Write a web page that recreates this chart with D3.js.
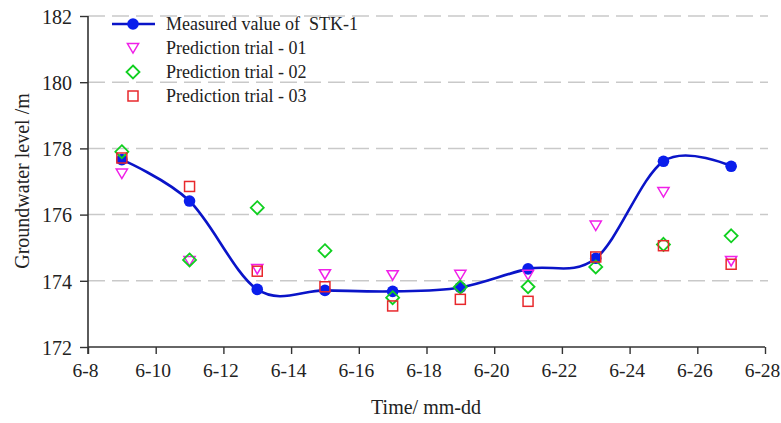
<!DOCTYPE html>
<html>
<head>
<meta charset="utf-8">
<script src="https://cdn.jsdelivr.net/npm/d3@7"></script>
<style>
  html, body { margin: 0; padding: 0; background: #fff; }
  #chart text { font-family: "Liberation Serif" !important; }
</style>
</head>
<body>
<svg id="chart" width="781" height="423"></svg>
<script>
// Observation days (June), measured groundwater level and three prediction trials
const days = [9, 11, 13, 15, 17, 19, 21, 23, 25, 27];
const measured = [177.66, 176.41, 173.74, 173.71, 173.68, 173.8, 174.36, 174.68, 177.61, 177.46];
const trial01 = [177.24, 174.6, 174.36, 174.2, 174.17, 174.18, 174.18, 175.67, 176.68, 174.6];
const trial02 = [177.9, 174.63, 176.21, 174.91, 173.49, 173.81, 173.82, 174.42, 175.1, 175.36];
const trial03 = [177.71, 176.85, 174.29, 173.82, 173.24, 173.44, 173.38, 174.72, 175.06, 174.5];
const xTicks = [8, 10, 12, 14, 16, 18, 20, 22, 24, 26, 28];
const yTicks = [172, 174, 176, 178, 180, 182];
const seriesNames = ["Measured value of  STK-1", "Prediction trial - 01", "Prediction trial - 02", "Prediction trial - 03"];

const fontName = "Liberation Serif";
const svg = d3.select("#chart");
const plotLeft = 88, plotRight = 765, plotTop = 16, plotBottom = 347;

const x = d3.scaleLinear().domain([8, 28]).range([plotLeft, plotRight]);
const y = d3.scaleLinear().domain([172, 182]).range([plotBottom, plotTop]);

const axisColor = "#333";
const textColor = "#222";

// Dashed horizontal gridlines
svg.append("g")
  .selectAll("line")
  .data(yTicks.filter(v => v > 172))
  .join("line")
  .attr("x1", plotLeft).attr("x2", 768)
  .attr("y1", d => y(d)).attr("y2", d => y(d))
  .attr("stroke", "#c9c9c9")
  .attr("stroke-width", 1.5)
  .attr("stroke-dasharray", "17,7");

// Y axis
const yAxis = svg.append("g")
  .attr("transform", `translate(${plotLeft},0)`)
  .call(d3.axisLeft(y).tickValues(yTicks).tickSize(8).tickPadding(8).tickFormat(d3.format("d")))
  .attr("font-family", fontName).attr("font-size", 20);
yAxis.select(".domain").attr("stroke", axisColor).attr("stroke-width", 1.6).attr("d", `M0,${plotTop}V${plotBottom + 7}`);
yAxis.selectAll(".tick line").attr("stroke", axisColor).attr("stroke-width", 1.4);
yAxis.selectAll(".tick text")
  .attr("font-family", fontName)
  .attr("font-size", 20)
  .attr("fill", textColor)
  .attr("dy", "0.36em");

// X axis
const xAxis = svg.append("g")
  .attr("transform", `translate(0,${plotBottom})`)
  .call(d3.axisBottom(x).tickValues(xTicks).tickSize(7).tickPadding(9).tickFormat(d => "6-" + d))
  .attr("font-family", fontName).attr("font-size", 19.5);
xAxis.select(".domain").attr("stroke", axisColor).attr("stroke-width", 1.6).attr("d", `M${plotLeft},0H${plotRight}`);
xAxis.selectAll(".tick line").attr("stroke", axisColor).attr("stroke-width", 1.4);
xAxis.selectAll(".tick text")
  .attr("font-family", fontName)
  .attr("font-size", 19.5)
  .attr("dx", -3)
  .attr("fill", textColor);

// Axis titles
svg.append("text")
  .attr("transform", `translate(29,181) rotate(-90)`)
  .attr("text-anchor", "middle")
  .attr("font-family", fontName)
  .attr("font-size", 20)
  .attr("fill", textColor)
  .text("Groundwater level /m");

svg.append("text")
  .attr("x", 426).attr("y", 414)
  .attr("text-anchor", "middle")
  .attr("font-family", fontName)
  .attr("font-size", 20)
  .attr("fill", textColor)
  .text("Time/ mm-dd");

// Marker shapes
const tri = (cx, cy, s) => `M${cx - s},${cy - s * 0.8}L${cx + s},${cy - s * 0.8}L${cx},${cy + s * 0.9}Z`;
const dia = (cx, cy, s) => `M${cx},${cy - s}L${cx + s},${cy}L${cx},${cy + s}L${cx - s},${cy}Z`;

const blue = "#0a14c8";
const magenta = "#f020e8";
const green = "#10d020";
const red = "#e8282c";

// Smooth measured curve
const line = d3.line()
  .x((d, i) => x(days[i]))
  .y(d => y(d))
  .curve(d3.curveCardinal.tension(0));

svg.append("path")
  .datum(measured)
  .attr("d", line)
  .attr("fill", "none")
  .attr("stroke", blue)
  .attr("stroke-width", 2.6);

svg.append("g").selectAll("circle")
  .data(measured)
  .join("circle")
  .attr("cx", (d, i) => x(days[i]))
  .attr("cy", d => y(d))
  .attr("r", 5.8)
  .attr("fill", "#0a1eec");

// Prediction markers
svg.append("g").selectAll("path")
  .data(trial01)
  .join("path")
  .attr("d", (d, i) => tri(x(days[i]), y(d), 5.6))
  .attr("fill", "none").attr("stroke", magenta).attr("stroke-width", 1.5);

svg.append("g").selectAll("path")
  .data(trial02)
  .join("path")
  .attr("d", (d, i) => dia(x(days[i]), y(d), 6.5))
  .attr("fill", "none").attr("stroke", green).attr("stroke-width", 1.8);

svg.append("g").selectAll("rect")
  .data(trial03)
  .join("rect")
  .attr("x", (d, i) => x(days[i]) - 5)
  .attr("y", d => y(d) - 5)
  .attr("width", 10).attr("height", 10)
  .attr("fill", "none").attr("stroke", red).attr("stroke-width", 1.5);

// Legend
const lg = svg.append("g");
const rowY = [24, 48, 72, 96];
const lx = 133;
lg.append("line").attr("x1", 112).attr("x2", 155).attr("y1", rowY[0]).attr("y2", rowY[0])
  .attr("stroke", blue).attr("stroke-width", 2.6);
lg.append("circle").attr("cx", lx).attr("cy", rowY[0]).attr("r", 5.8).attr("fill", "#0a1eec");
lg.append("path").attr("d", tri(lx, rowY[1], 5.6)).attr("fill", "none").attr("stroke", magenta).attr("stroke-width", 1.5);
lg.append("path").attr("d", dia(lx, rowY[2], 6.5)).attr("fill", "none").attr("stroke", green).attr("stroke-width", 1.8);
lg.append("rect").attr("x", lx - 5).attr("y", rowY[3] - 5).attr("width", 10).attr("height", 10)
  .attr("fill", "none").attr("stroke", red).attr("stroke-width", 1.5);
lg.selectAll("text")
  .data(seriesNames)
  .join("text")
  .attr("x", 166)
  .attr("y", (d, i) => rowY[i] + 6)
  .attr("font-family", fontName)
  .attr("font-size", 18)
  .style("white-space", "pre")
  .attr("fill", textColor)
  .text(d => d);
</script>
</body>
</html>
